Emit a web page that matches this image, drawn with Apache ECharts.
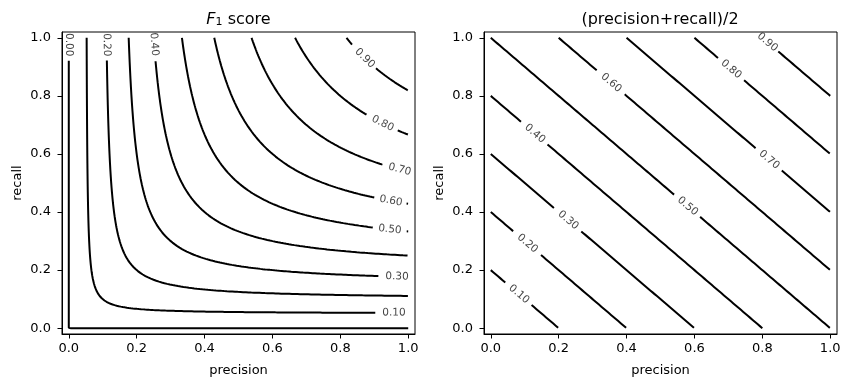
<!DOCTYPE html>
<html><head><meta charset="utf-8">
<script src="https://cdn.jsdelivr.net/npm/echarts@6/dist/echarts.min.js"></script>
<style>html,body{margin:0;padding:0;background:#fff}#c{width:850px;height:387px}</style>
</head><body><div id="c"></div>
<script>
// ---- data ----
const axisTicks = [0.0, 0.2, 0.4, 0.6, 0.8, 1.0];
const axisMin = -0.02, axisMax = 1.02;
const titles = ['F1 score', '(precision+recall)/2'];
const xName = 'precision', yName = 'recall';

// left panel: F1 contour levels
const f1Levels = [0.0, 0.1, 0.2, 0.3, 0.4, 0.5, 0.6, 0.7, 0.8, 0.9];
// inline labels: level, axis along which the label sits, label center, gap in the line
const f1LabelLevels = [0.0, 0.2, 0.4, 0.9, 0.8, 0.7, 0.6, 0.5, 0.3, 0.1];
const f1LabelAxis   = ['r', 'r', 'r', 'p', 'p', 'p', 'p', 'p', 'p', 'p'];
const f1LabelAt     = [0.976, 0.976, 0.978, 0.872, 0.925, 0.975, 0.949, 0.946, 0.967, 0.958];
const f1GapFrom     = [0.922, 0.922, 0.920, 0.835, 0.878, 0.924, 0.900, 0.897, 0.914, 0.905];
const f1GapTo       = [1.01, 1.01, 1.01, 0.905, 0.969, 1.01, 0.995, 0.995, 1.01, 1.01];

// right panel: (precision+recall)/2 contour levels
const avgLevels  = [0.1, 0.2, 0.3, 0.4, 0.5, 0.6, 0.7, 0.8, 0.9];
const avgLabelAt = [0.083, 0.108, 0.228, 0.130, 0.580, 0.355, 0.820, 0.708, 0.815];
const avgGapFrom = [0.044, 0.067, 0.187, 0.090, 0.542, 0.313, 0.781, 0.670, 0.790];
const avgGapTo   = [0.120, 0.148, 0.266, 0.167, 0.616, 0.394, 0.857, 0.746, 0.847];

// ---- curve helpers ----
const N = 900;
function f1R(f, p) { return f === 0 ? 0 : f * p / (2 * p - f); }
function f1P(f, r) { return f === 0 ? 0 : f * r / (2 * r - f); }
function f1Curve(f) {
  const pts = [];
  for (let i = 0; i <= N; i++) { const r = 1 - (1 - f) * i / N; pts.push([f1P(f, r), r]); }
  for (let i = 1; i <= N; i++) { const p = f + (1 - f) * i / N; pts.push([p, f1R(f, p)]); }
  return pts;
}
function avgCurve(m) {
  const pts = [];
  const p0 = Math.max(0, 2 * m - 1), p1 = Math.min(1, 2 * m);
  for (let i = 0; i <= N; i++) { const p = p0 + (p1 - p0) * i / N; pts.push([p, 2 * m - p]); }
  return pts;
}
function splitGap(pts, idx, from, to) {
  const segs = []; let cur = [];
  for (const pt of pts) {
    if (pt[idx] >= from && pt[idx] <= to) { if (cur.length > 1) segs.push(cur); cur = []; }
    else cur.push(pt);
  }
  if (cur.length > 1) segs.push(cur);
  return segs;
}

const FONT = 'DejaVu Sans';
const lineSeries = [];
function addLine(seg, gi) {
  lineSeries.push({
    type: 'line', xAxisIndex: gi, yAxisIndex: gi, data: seg, showSymbol: false, symbol: 'none',
    lineStyle: { color: '#000', width: 2 }, silent: true, animation: false, clip: true, z: 3
  });
}
f1Levels.forEach(f => {
  const k = f1LabelLevels.indexOf(f);
  const pts = f1Curve(f);
  const segs = k < 0 ? [pts] : splitGap(pts, f1LabelAxis[k] === 'p' ? 0 : 1, f1GapFrom[k], f1GapTo[k]);
  segs.forEach(s => addLine(s, 0));
});
avgLevels.forEach((m, k) => {
  splitGap(avgCurve(m), 0, avgGapFrom[k], avgGapTo[k]).forEach(s => addLine(s, 1));
});

function makeAxis(gi, isX) {
  return {
    gridIndex: gi, type: 'value', min: axisMin, max: axisMax,
    name: isX ? xName : yName, nameLocation: 'middle', nameGap: isX ? 30 : 38,
    nameTextStyle: { fontSize: 13, color: '#000', fontFamily: FONT },
    axisLine: { show: true, onZero: false, lineStyle: { color: '#000', width: 1 } },
    axisTick: { show: true, length: 4.5, customValues: axisTicks, lineStyle: { color: '#000', width: 1 } },
    axisLabel: { customValues: axisTicks, formatter: v => v.toFixed(1), margin: isX ? 8 : 11,
      fontSize: 13, color: '#000', fontFamily: FONT },
    splitLine: { show: false }
  };
}

const option = {
  animation: false,
  backgroundColor: '#fff',
  title: [
    { text: '{i|F}{s|1}{n| score}', left: 238.5, top: 12, textAlign: 'center', padding: 0,
      textStyle: { fontSize: 16, fontWeight: 'normal', color: '#000', fontFamily: FONT,
        rich: { i: { fontSize: 16, fontWeight: 'normal', fontStyle: 'italic', fontFamily: FONT, color: '#000' },
                s: { fontSize: 11, fontWeight: 'normal', fontFamily: FONT, color: '#000', verticalAlign: 'bottom', padding: [5, 0, 0, 0] },
                n: { fontSize: 16, fontWeight: 'normal', fontFamily: FONT, color: '#000' } } } },
    { text: titles[1], left: 660, top: 12, textAlign: 'center', padding: 0,
      textStyle: { fontSize: 16, fontWeight: 'normal', color: '#000', fontFamily: FONT } }
  ],
  grid: [
    { left: 62, top: 32, width: 353, height: 302, show: true, borderColor: '#000', borderWidth: 1, backgroundColor: 'transparent' },
    { left: 484, top: 32, width: 353, height: 302, show: true, borderColor: '#000', borderWidth: 1, backgroundColor: 'transparent' }
  ],
  xAxis: [makeAxis(0, true), makeAxis(1, true)],
  yAxis: [makeAxis(0, false), makeAxis(1, false)],
  series: lineSeries
};

const chart = echarts.init(document.getElementById('c'), null, { renderer: 'canvas' });
chart.setOption(option);

function angleOf(gi, a, b) {
  const pa = chart.convertToPixel({ gridIndex: gi }, a);
  const pb = chart.convertToPixel({ gridIndex: gi }, b);
  let t = Math.atan2(-(pb[1] - pa[1]), pb[0] - pa[0]) * 180 / Math.PI;
  if (t > 90) t -= 180; if (t < -90) t += 180;
  return t;
}
const eps = 0.004;
const leftLabels = f1LabelLevels.map((f, k) => {
  const t = f1LabelAt[k];
  let pt, a, b;
  if (f1LabelAxis[k] === 'p') {
    pt = [t, f1R(f, t)]; a = [t - eps, f1R(f, t - eps)]; b = [t + eps, f1R(f, t + eps)];
  } else {
    pt = [f1P(f, t), t]; a = [f1P(f, t + eps), t + eps]; b = [f1P(f, t - eps), t - eps];
  }
  return { value: pt, name: f.toFixed(2), label: { rotate: angleOf(0, a, b) } };
});
const rightLabels = avgLevels.map((m, k) => {
  const t = avgLabelAt[k];
  return { value: [t, 2 * m - t], name: m.toFixed(2),
    label: { rotate: angleOf(1, [t - eps, 2 * m - t + eps], [t + eps, 2 * m - t - eps]) } };
});
function labelSeries(data, gi) {
  return {
    type: 'scatter', xAxisIndex: gi, yAxisIndex: gi, data: data, symbol: 'circle', symbolSize: 1,
    itemStyle: { color: 'rgba(0,0,0,0)' }, silent: true, animation: false, clip: false, z: 5,
    label: { show: true, position: 'inside', formatter: p => p.name, fontSize: 10.5,
      fontFamily: FONT, color: '#111', align: 'center', verticalAlign: 'middle' },
    labelLayout: { hideOverlap: false }
  };
}
chart.setOption({ series: lineSeries.concat([labelSeries(leftLabels, 0), labelSeries(rightLabels, 1)]) });
</script></body></html>
